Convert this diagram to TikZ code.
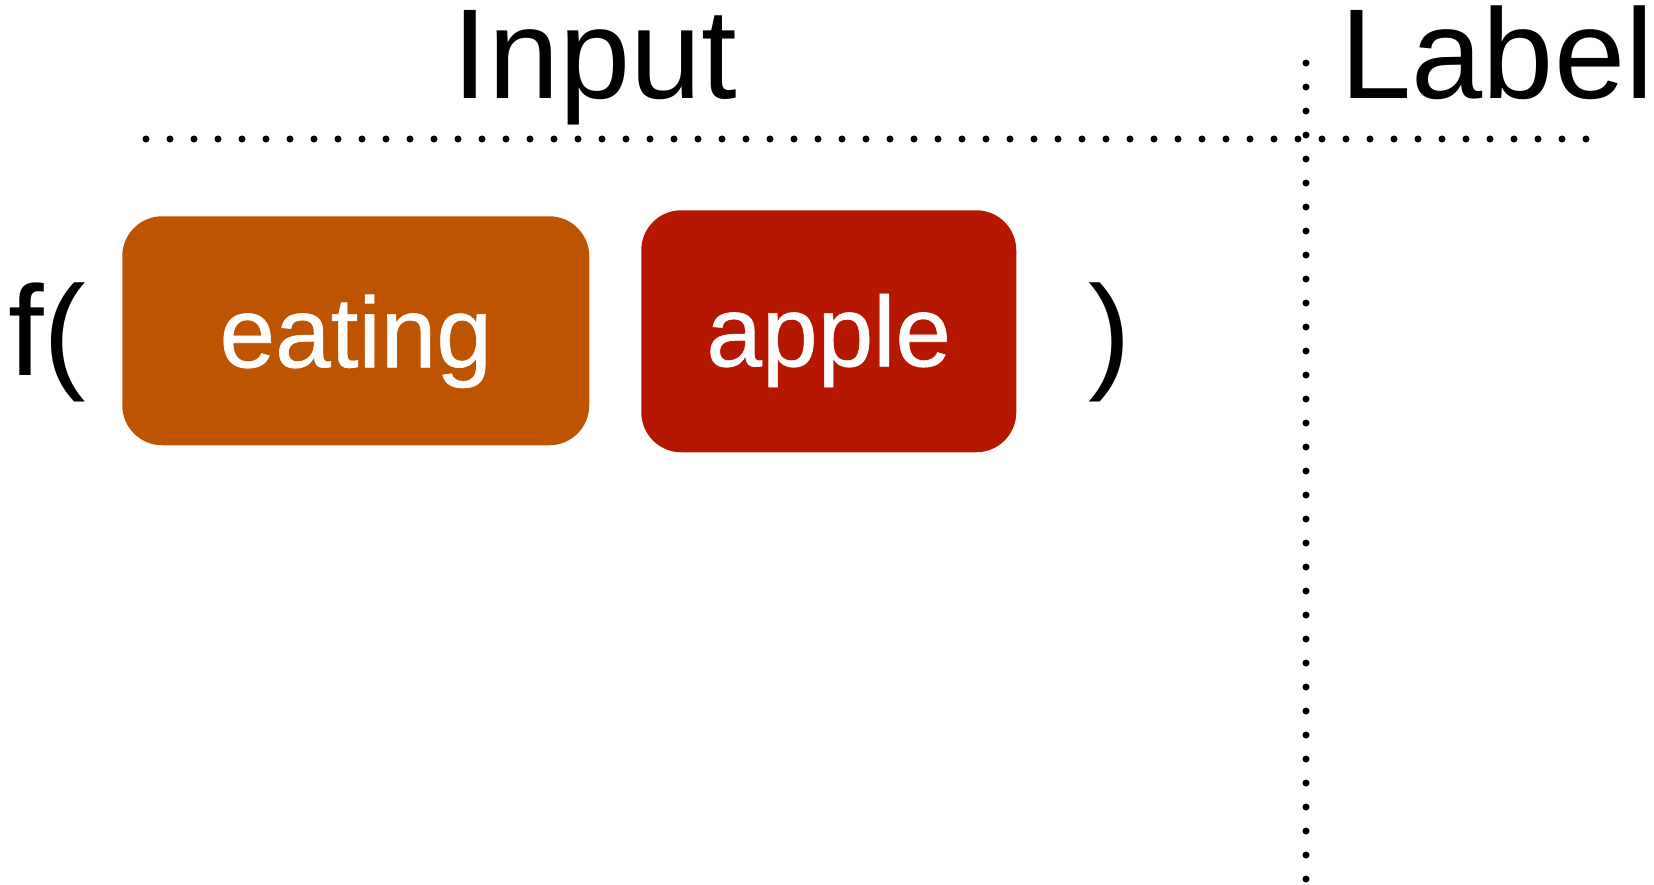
\documentclass[tikz,border=0pt]{standalone}
\usepackage{fontspec}
\setmainfont{Liberation Sans}
\newfontfamily\wordfont[FakeBold=0.6]{Liberation Sans}
\definecolor{boxorange}{RGB}{191,84,0}
\definecolor{boxred}{RGB}{181,23,0}
\begin{document}
\begin{tikzpicture}[x=0.75pt,y=-0.75pt,
  big/.style={inner sep=0pt,font=\fontsize{96}{110}\selectfont},
  word/.style={inner sep=0pt,rounded corners=30pt,text=white,align=center,
    font=\wordfont\fontsize{75}{90}\selectfont},
  dotline/.style={line width=5.25pt,line cap=round,dash pattern=on 0pt off 18pt}]
\useasboundingbox (0,0) rectangle (1654,885);
% headers
\node[big,anchor=base] (input) at (595,98) {Input};
\node[big,anchor=base east] (label) at (1654,98) {Label};
% dotted separators
\coordinate (hl) at (146,139);
\coordinate (hr) at (1586,139);
\coordinate (vt) at (1306,63);
\coordinate (vb) at (1306,879);
\draw[dotline] (hl) -- (hr);
\draw[dotline] (vt) -- (vb);
% function
\node[big,anchor=base west] (fopen) at (8,375) {f(};
\node[big,anchor=base west] (fclose) at (1088,375) {)};
% word boxes
\node[word,fill=boxorange,anchor=north west,minimum width=350.25pt,
  text height=113.25pt,text depth=58.5pt] (eating) at (122,216) {eating};
\node[word,fill=boxred,anchor=north west,minimum width=281.25pt,
  text height=117pt,text depth=64.5pt] (apple) at (641,210) {apple};
\end{tikzpicture}
\end{document}
